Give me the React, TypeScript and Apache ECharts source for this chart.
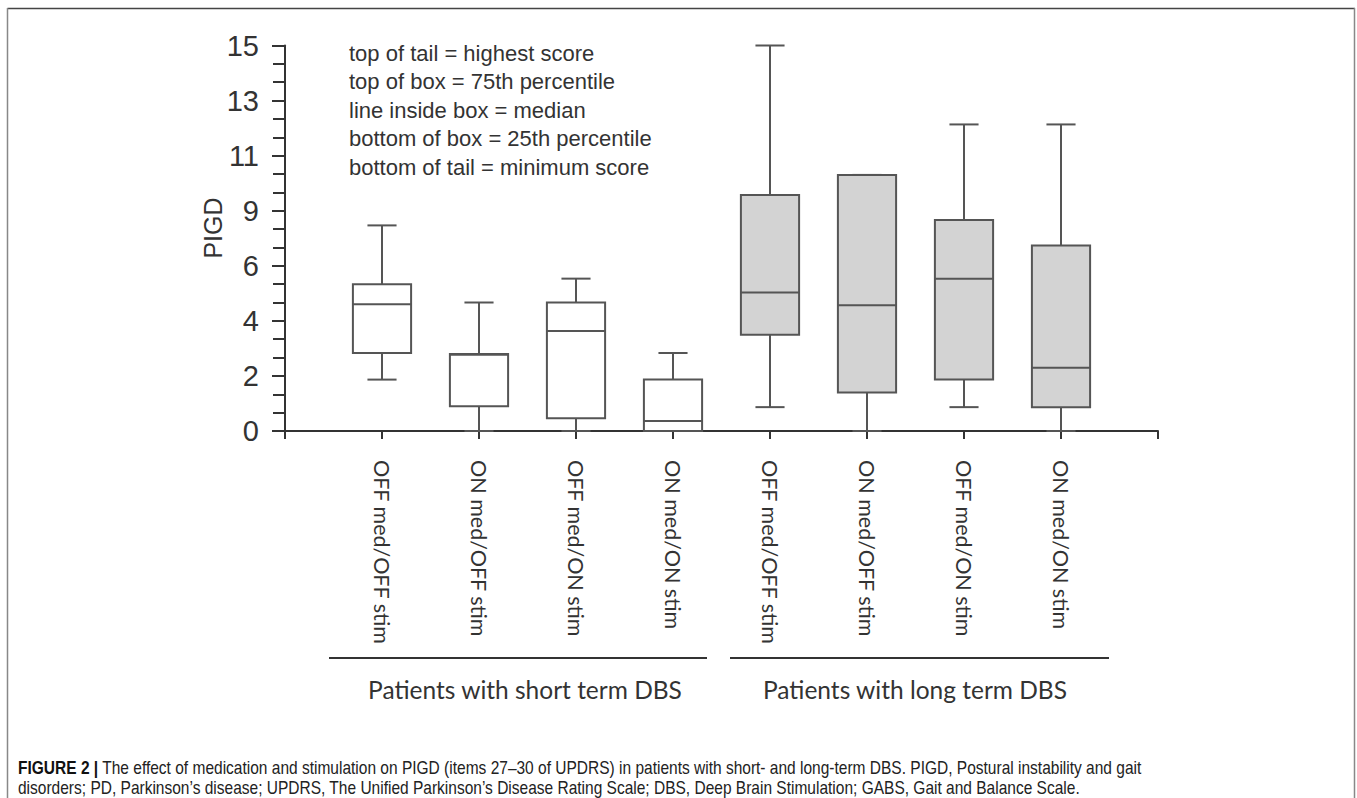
import React, { useEffect, useRef } from "react";
import * as echarts from "echarts";

// ---- data (y values in axis position units: one unit = one minor tick; labels every 3 units) ----
const categories = [
  "OFF med/OFF stim",
  "ON med/OFF stim",
  "OFF med/ON stim",
  "ON med/ON stim",
  "OFF med/OFF stim",
  "ON med/OFF stim",
  "OFF med/ON stim",
  "ON med/ON stim",
];
const yTickLabels = ["0", "2", "4", "6", "9", "11", "13", "15"];
const minScore = [2.8, 0, 0, 0, 1.3, 0, 1.3, 0];
const q1Score = [4.25, 1.35, 0.7, 0, 5.25, 2.1, 2.8, 1.3];
const medianScore = [6.9, 4.15, 5.45, 0.55, 7.55, 6.85, 8.3, 3.45];
const q3Score = [8.0, 4.2, 7.0, 2.8, 12.85, 13.95, 11.5, 10.1];
const maxScore = [11.2, 7.0, 8.3, 4.25, 21, 13.95, 16.7, 16.7];
const group = [0, 0, 0, 0, 1, 1, 1, 1]; // 0 = short term DBS, 1 = long term DBS
const groupLabels = ["Patients with short term DBS", "Patients with long term DBS"];
const legendLines = [
  "top of tail = highest score",
  "top of box = 75th percentile",
  "line inside box = median",
  "bottom of box = 25th percentile",
  "bottom of tail = minimum score",
];
const captionLine1 =
  " The effect of medication and stimulation on PIGD (items 27\u201330 of UPDRS) in patients with short- and long-term DBS. PIGD, Postural instability and gait";
const captionLine2 =
  "disorders; PD, Parkinson\u2019s disease; UPDRS, The Unified Parkinson\u2019s Disease Rating Scale; DBS, Deep Brain Stimulation; GABS, Gait and Balance Scale.";

const xCategories = ["", ...categories, ""];

export default function App() {
  const ref = useRef<HTMLDivElement>(null);

  useEffect(() => {
    if (!ref.current) return;
    const chart = echarts.init(ref.current, undefined, { renderer: "svg" });

    const data = categories.map((_, i) => [
      i + 1,
      minScore[i],
      q1Score[i],
      medianScore[i],
      q3Score[i],
      maxScore[i],
      group[i],
    ]);

    const stroke = "#555";
    const lw = 2;

    const renderItem = (params: any, api: any) => {
      const x = api.value(0);
      const pLo = api.coord([x, api.value(1)]);
      const pQ1 = api.coord([x, api.value(2)]);
      const pMed = api.coord([x, api.value(3)]);
      const pQ3 = api.coord([x, api.value(4)]);
      const pHi = api.coord([x, api.value(5)]);
      const fill = api.value(6) ? "#d3d3d3" : "#ffffff";
      const w = api.size([1, 0])[0] * 0.6;
      const cx = pLo[0];
      const lineStyle = { stroke, lineWidth: lw };
      return {
        type: "group",
        children: [
          { type: "line", shape: { x1: cx, y1: pQ3[1], x2: cx, y2: pHi[1] }, style: lineStyle },
          { type: "line", shape: { x1: cx, y1: pQ1[1], x2: cx, y2: pLo[1] }, style: lineStyle },
          { type: "line", shape: { x1: cx - w / 4, y1: pHi[1], x2: cx + w / 4, y2: pHi[1] }, style: lineStyle },
          { type: "line", shape: { x1: cx - w / 4, y1: pLo[1], x2: cx + w / 4, y2: pLo[1] }, style: lineStyle },
          {
            type: "rect",
            shape: { x: cx - w / 2, y: pQ3[1], width: w, height: pQ1[1] - pQ3[1] },
            style: { fill, stroke, lineWidth: lw },
          },
          { type: "line", shape: { x1: cx - w / 2, y1: pMed[1], x2: cx + w / 2, y2: pMed[1] }, style: lineStyle },
        ],
      };
    };

    const txt = (
      text: string,
      x: number,
      y: number,
      font: string,
      fill: string,
      align: string = "left",
      rotation = 0,
      extra: any = {}
    ) => ({
      type: "text",
      x,
      y,
      rotation,
      silent: true,
      ...extra,
      style: {
        text,
        font,
        fill,
        textAlign: align,
        align,
        textVerticalAlign: "middle",
        verticalAlign: "middle",
      },
    });

    const capFont = '19px "Liberation Sans", Arial, sans-serif';
    const capScale = 0.817;

    const graphics: any[] = [
      // frame
      { type: "line", shape: { x1: 7.5, y1: 8.5, x2: 1355, y2: 8.5 }, style: { stroke: "#444", lineWidth: 1.5 } },
      { type: "line", shape: { x1: 7.5, y1: 8, x2: 7.5, y2: 800 }, style: { stroke: "#888", lineWidth: 1.5 } },
      { type: "line", shape: { x1: 1354.5, y1: 8, x2: 1354.5, y2: 800 }, style: { stroke: "#888", lineWidth: 1.5 } },
      // y axis title
      txt("PIGD", 213, 228, '25px "Liberation Sans", Arial, sans-serif', "#333", "center", Math.PI / 2),
      // group separators
      { type: "line", shape: { x1: 329, y1: 658, x2: 707, y2: 658 }, style: { stroke: "#333", lineWidth: 2 } },
      { type: "line", shape: { x1: 730, y1: 658, x2: 1109, y2: 658 }, style: { stroke: "#333", lineWidth: 2 } },
      txt(groupLabels[0], 525, 689, '24.5px Lato, "Open Sans", sans-serif', "#333", "center"),
      txt(groupLabels[1], 915, 689, '24.5px Lato, "Open Sans", sans-serif', "#333", "center"),
      // caption
      {
        type: "text",
        x: 18,
        y: 767,
        scaleX: capScale,
        silent: true,
        style: {
          text: "{b|FIGURE 2 |}{n|" + captionLine1 + "}",
          verticalAlign: "middle",
          textVerticalAlign: "middle",
          rich: {
            b: { font: 'bold 19px "Liberation Sans", Arial, sans-serif', fill: "#111" },
            n: { font: capFont, fill: "#222" },
          },
        },
      },
      txt(captionLine2, 18, 787, capFont, "#222", "left", 0, { scaleX: capScale }),
    ];
    legendLines.forEach((l, i) => {
      graphics.push(txt(l, 349, 53 + i * 28.5, '22px "Liberation Sans", Arial, sans-serif', "#333"));
    });

    chart.setOption({
      animation: false,
      backgroundColor: "#fff",
      grid: { left: 285, top: 45.5, right: 199, bottom: 367 },
      xAxis: {
        type: "category",
        data: xCategories,
        boundaryGap: false,
        axisLine: { lineStyle: { color: "#333", width: 2 } },
        axisTick: { show: true, length: 8, interval: 0, lineStyle: { color: "#333", width: 2 } },
        axisLabel: {
          interval: 0,
          rotate: -90,
          margin: 29,
          color: "#333",
          fontSize: 21.5,
          fontFamily: 'Lato, "Open Sans", sans-serif',
        },
        splitLine: { show: false },
      },
      yAxis: {
        type: "value",
        min: 0,
        max: 21,
        interval: 3,
        axisLine: { show: true, lineStyle: { color: "#333", width: 2 } },
        axisTick: { show: true, length: 13, lineStyle: { color: "#333", width: 2 } },
        minorTick: { show: true, splitNumber: 3, length: 12, lineStyle: { color: "#333", width: 2 } },
        axisLabel: {
          margin: 26,
          color: "#333",
          fontSize: 29,
          fontFamily: '"Liberation Sans", Arial, sans-serif',
          formatter: (v: number) => yTickLabels[Math.round(v / 3)] ?? "",
        },
        splitLine: { show: false },
      },
      series: [
        {
          type: "custom",
          renderItem,
          data,
          encode: { x: 0, y: [1, 2, 3, 4, 5] },
          z: 3,
        },
      ],
      graphic: graphics,
    });

    return () => chart.dispose();
  }, []);

  return (
    <div
      ref={ref}
      style={{ position: "fixed", left: 0, top: 0, width: 1357, height: 798 }}
    />
  );
}
